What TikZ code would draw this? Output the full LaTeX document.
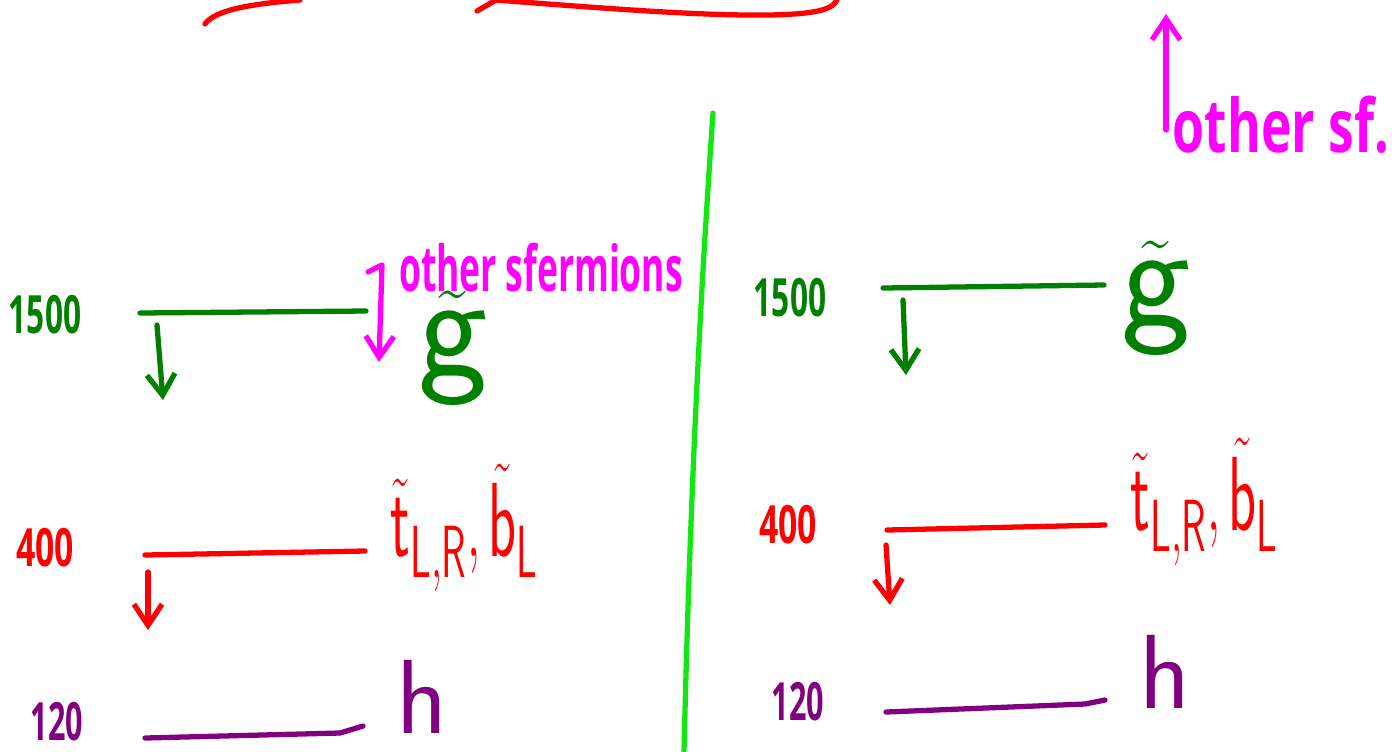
\documentclass[tikz,border=0pt]{standalone}
\usepackage{fontspec}
\setmainfont{Open Sans}
\usepackage{graphicx}
\usetikzlibrary{arrows.meta}
\definecolor{dgreen}{RGB}{0,128,0}
\definecolor{lgreen}{RGB}{20,230,20}
\definecolor{mag}{RGB}{255,0,255}
\definecolor{purp}{RGB}{128,0,128}
\newcommand{\nar}[2]{\scalebox{#1}[1]{#2}}
\begin{document}
\begin{tikzpicture}[x=0.01cm,y=-0.01cm,line width=1.5pt,line cap=round,line join=round,
  >={Straight Barb[length=6pt,width=8pt]},
  num/.style={font=\fontsize{15}{15}\selectfont\bfseries,inner sep=0pt},
  big/.style={font=\fontsize{30}{30}\selectfont,inner sep=0pt},
  huge/.style={font=\fontsize{42}{42}\selectfont,inner sep=0pt},
  note/.style={font=\fontsize{18}{18}\selectfont\bfseries,text=mag,inner sep=0pt}]
\useasboundingbox (0,0) rectangle (1392,751);
\coordinate (T1) at (205,24); \coordinate (T2) at (300,0); \coordinate (T3) at (477,11); \coordinate (T4) at (496,0); \coordinate (T5) at (837,0);
\draw[red] (T1) .. controls (215,10) and (250,4) .. (T2);
\draw[red] (T3)--(T4) .. controls (600,8) and (700,16) .. (770,15) .. controls (815,14) and (832,10) .. (T5);
\coordinate (V1) at (713,113); \coordinate (V2) at (684,751);
\draw[lgreen] (V1) .. controls (700,300) and (690,500) .. (V2);
\node[num,text=dgreen] (m1500a) at (45,315) {\nar{0.6}{1500}};
\node[num,text=red] (m400a) at (45,548) {\nar{0.64}{400}};
\node[num,text=purp] (m120a) at (57,722) {\nar{0.58}{120}};
\coordinate (gA) at (140,313); \coordinate (gB) at (366,311);
\coordinate (tA) at (145,555); \coordinate (tB) at (365,551);
\coordinate (hA) at (145,738); \coordinate (hB) at (340,733); \coordinate (hC) at (363,726);
\draw[dgreen] (gA)--(gB);
\draw[red] (tA)--(tB);
\draw[purp] (hA)--(hB)--(hC);
\coordinate (ga1) at (157,325); \coordinate (ga2) at (163,400);
\coordinate (ta1) at (148,572); \coordinate (ta2) at (148,630);
\draw[dgreen,->] (ga1)--(ga2);
\draw[red,->] (ta1)--(ta2);
\coordinate (b1) at (368,272); \coordinate (b2) at (382,265); \coordinate (b3) at (379,362);
\draw[mag,->] (b1)--(b2)--(b3);
\node[note] (othA) at (541,268) {\nar{0.56}{other sfermions}};
\node[huge,text=dgreen] (glA) at (453,348) {$\tilde{\mathsf g}$};
\node[big,text=red,anchor=west] (sqA) at (388,528) {\nar{0.55}{$\tilde{\mathsf t}_{\mathsf{L,R}},\tilde{\mathsf b}_{\mathsf L}$}};
\node[big,text=purp] (hgA) at (422,697) {$\mathsf h$};
\node[num,text=dgreen] (m1500b) at (790,298) {\nar{0.6}{1500}};
\node[num,text=red] (m400b) at (788,525) {\nar{0.64}{400}};
\node[num,text=purp] (m120b) at (798,702) {\nar{0.58}{120}};
\coordinate (gC) at (883,288); \coordinate (gD) at (1104,285);
\coordinate (tC) at (887,530); \coordinate (tD) at (1105,525);
\coordinate (hD) at (886,712); \coordinate (hE) at (1085,704); \coordinate (hF) at (1105,700);
\draw[dgreen] (gC)--(gD);
\draw[red] (tC)--(tD);
\draw[purp] (hD)--(hE)--(hF);
\coordinate (ga3) at (903,300); \coordinate (ga4) at (906,375);
\coordinate (ta3) at (886,545); \coordinate (ta4) at (890,605);
\draw[dgreen,->] (ga3)--(ga4);
\draw[red,->] (ta3)--(ta4);
\coordinate (u1) at (1166,130); \coordinate (u2) at (1166,14);
\draw[mag,->] (u1)--(u2);
\node[note,font=\fontsize{21}{21}\selectfont\bfseries] (othB) at (1281,125) {\nar{0.7}{other sf.}};
\node[huge,text=dgreen] (glB) at (1156,298) {$\tilde{\mathsf g}$};
\node[big,text=red,anchor=west] (sqB) at (1128,502) {\nar{0.55}{$\tilde{\mathsf t}_{\mathsf{L,R}},\tilde{\mathsf b}_{\mathsf L}$}};
\node[big,text=purp] (hgB) at (1165,672) {$\mathsf h$};
\end{tikzpicture}
\end{document}
